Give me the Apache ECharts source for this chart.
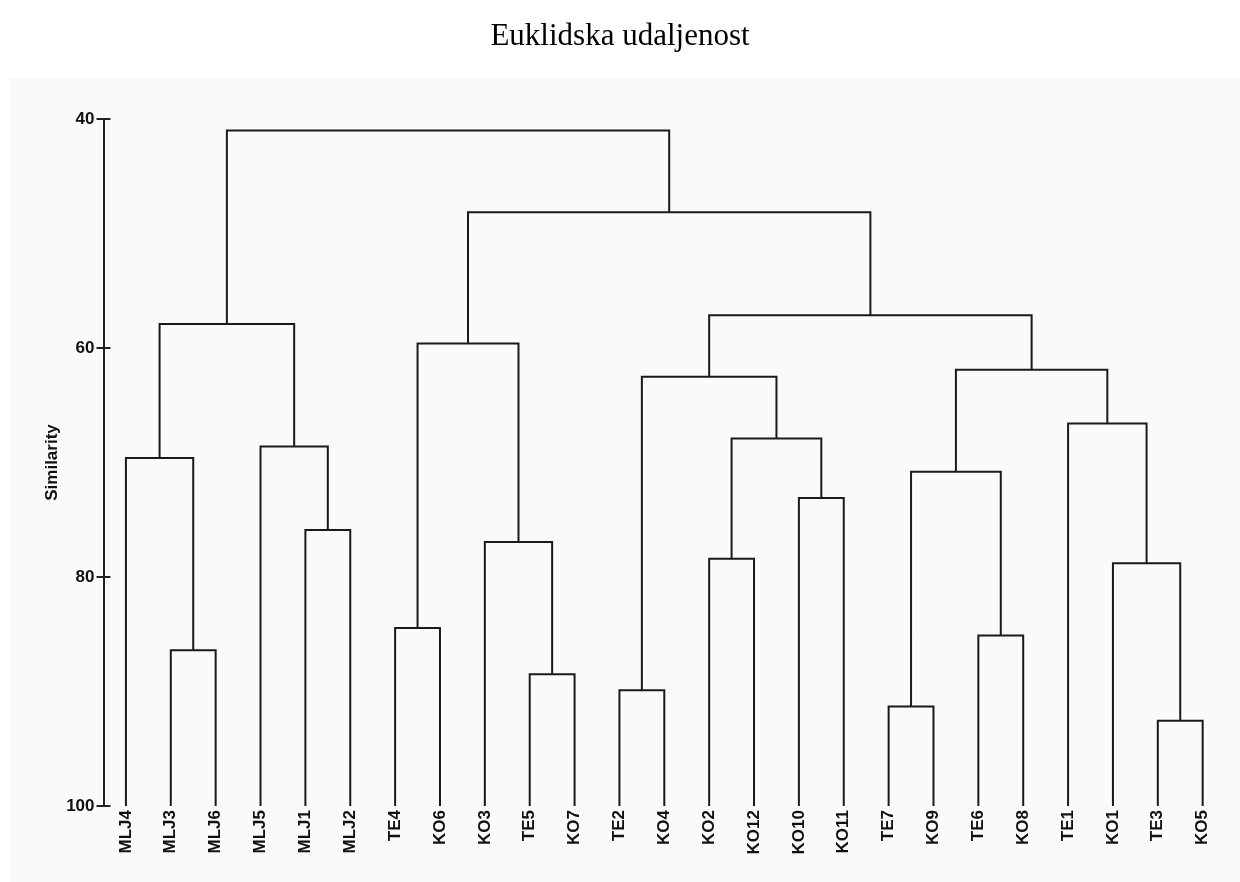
<!DOCTYPE html>
<html>
<head>
<meta charset="utf-8">
<title>Euklidska udaljenost</title>
<script src="https://cdn.jsdelivr.net/npm/echarts@6/dist/echarts.min.js"></script>
<style>
  html, body { margin: 0; padding: 0; background: #fff; }
  #chart { width: 1240px; height: 882px; }
</style>
</head>
<body>
<div id="chart"></div>
<script>
  // leaf order along the bottom
  const leaves = [
    "MLJ4", "MLJ3", "MLJ6", "MLJ5", "MLJ1", "MLJ2", "TE4", "KO6", "KO3",
    "TE5", "KO7", "TE2", "KO4", "KO2", "KO12", "KO10", "KO11", "TE7",
    "KO9", "TE6", "KO8", "TE1", "KO1", "TE3", "KO5",
  ];
  // cluster n joins joinA[n] and joinB[n] (a leaf name or "cN") at joinSim[n]
  const joinA = [
    "MLJ3", "MLJ4", "MLJ1", "MLJ5", "c1", "TE4", "TE5", "KO3", "c5", "TE2",
    "KO2", "KO10", "c10", "c9", "TE7", "TE6", "c14", "TE3", "KO1", "TE1",
    "c16", "c13", "c8", "c4",
  ];
  const joinB = [
    "MLJ6", "c0", "MLJ2", "c2", "c3", "KO6", "KO7", "c6", "c7", "KO4",
    "KO12", "KO11", "c11", "c12", "KO9", "KO8", "c15", "KO5", "c17", "c18",
    "c19", "c20", "c21", "c22",
  ];
  const joinSim = [
    86.4, 69.6, 75.9, 68.6, 57.9, 84.45, 88.5, 76.95, 59.6, 89.9,
    78.4, 73.1, 67.9, 62.5, 91.3, 85.1, 70.8, 92.55, 78.8, 66.6,
    61.9, 57.15, 48.15, 41.0,
  ];
  const yTicks = [40, 60, 80, 100];

  const nodes = [];
  function pos(name) {
    if (name[0] === "c" && !isNaN(+name.slice(1))) return nodes[+name.slice(1)];
    return { x: leaves.indexOf(name), h: yTicks[yTicks.length - 1] };
  }
  const links = joinSim.map((h, i) => {
    const a = pos(joinA[i]);
    const b = pos(joinB[i]);
    nodes[i] = { x: (a.x + b.x) / 2, h: h };
    return [a.x, a.h, b.x, b.h, h];
  });

  const chart = echarts.init(document.getElementById("chart"));
  const axisFont = { fontFamily: "Liberation Sans", fontWeight: "bold", fontSize: 17, color: "#111" };
  const tickStyle = { color: "#222", width: 2 };

  const option = {
    backgroundColor: "#fff",
    animation: false,
    graphic: [
      {
        type: "rect",
        shape: { x: 9, y: 78, width: 1231, height: 804 },
        style: { fill: "#fafafa" },
        z: -10,
      },
    ],
    title: {
      text: "Euklidska udaljenost",
      left: "center",
      top: 16,
      textStyle: {
        fontFamily: "Liberation Serif",
        fontWeight: "normal",
        fontSize: 31,
        color: "#000",
      },
    },
    grid: { left: 103.5, right: 14.9, top: 119, bottom: 76, containLabel: false },
    xAxis: [
      {
        type: "category",
        data: leaves,
        boundaryGap: true,
        axisLine: { show: false },
        axisTick: { show: false },
        axisLabel: Object.assign({ rotate: 90, margin: 4, interval: 0 }, axisFont),
      },
      {
        type: "value",
        min: -0.5,
        max: leaves.length - 0.5,
        show: false,
      },
    ],
    yAxis: [
      {
        type: "value",
        inverse: true,
        min: 40,
        max: 100,
        interval: 20,
        name: "Similarity",
        nameLocation: "middle",
        nameGap: 43,
        nameMoveOverlap: false,
        nameTextStyle: axisFont,
        axisLine: { show: true, onZero: false, lineStyle: tickStyle },
        axisTick: { show: true, length: 7, lineStyle: tickStyle },
        axisLabel: Object.assign({ margin: 9 }, axisFont),
        splitLine: { show: false },
      },
      {
        type: "value",
        inverse: true,
        min: 40,
        max: 100,
        interval: 20,
        position: "left",
        axisLine: { show: false, onZero: false },
        axisTick: { show: true, inside: true, length: 7, lineStyle: tickStyle },
        axisLabel: { show: false },
        splitLine: { show: false },
      },
    ],
    series: [
      {
        type: "custom",
        xAxisIndex: 1,
        yAxisIndex: 0,
        data: links,
        encode: { x: [0, 2], y: [1, 3, 4] },
        renderItem: function (params, api) {
          const p1 = api.coord([api.value(0), api.value(1)]);
          const p2 = api.coord([api.value(0), api.value(4)]);
          const p3 = api.coord([api.value(2), api.value(4)]);
          const p4 = api.coord([api.value(2), api.value(3)]);
          return {
            type: "polyline",
            shape: { points: [p1, p2, p3, p4] },
            style: { stroke: "#1a1a1a", lineWidth: 2, fill: null, lineJoin: "miter" },
          };
        },
      },
    ],
  };

  chart.setOption(option);
</script>
</body>
</html>
